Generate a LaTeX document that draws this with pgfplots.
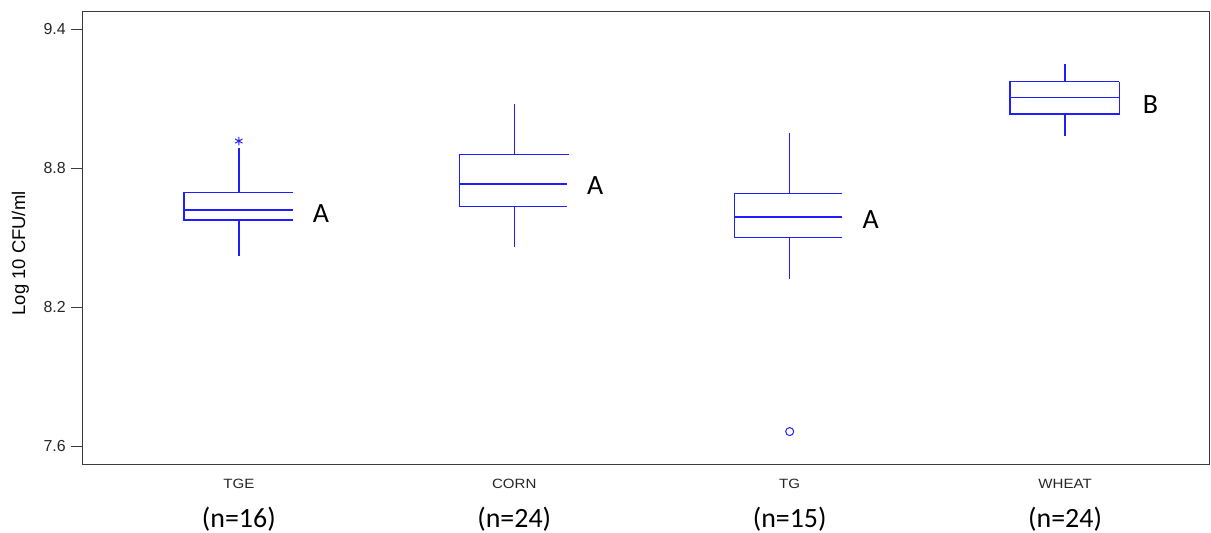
\documentclass[border=0pt]{standalone}
\usepackage{pgfplots}
\pgfplotsset{compat=1.18}
\usepackage{fontspec}
\setmainfont{Liberation Sans}
\newfontfamily\calibri{Carlito}
\newfontfamily\widesans[FakeStretch=1.12]{Liberation Sans}
\definecolor{boxblue}{RGB}{30,30,255}
\definecolor{axgray}{RGB}{60,60,60}
\pgfplotsset{
  boxline/.style={color=boxblue, line width=1.5bp, mark=none, solid},
}
\begin{document}
\begin{tikzpicture}
\useasboundingbox (-82.7bp,-69bp) rectangle (1128.3bp,464bp);
\begin{axis}[
  at={(0,0)}, anchor=south west,
  scale only axis, width=1127bp, height=453bp,
  xmin=0.433, xmax=4.525, ymin=7.522, ymax=9.479,
  axis line style={axgray, line width=0.8bp},
  xtick={1,2,3,4},
  xticklabels={TGE,CORN,TG,WHEAT},
  x tick style={draw=none},
  xticklabel style={anchor=base, yshift=-12.3bp, font=\widesans\fontsize{13.5}{15}\selectfont, text=black!85},
  extra x ticks={1,2,3,4},
  extra x tick labels={(n=16),(n=24),(n=15),(n=24)},
  extra x tick style={x tick style={draw=none}, xticklabel style={font=\calibri\fontsize{28}{32}\selectfont, yshift=-39.2bp, text=black}},
  ytick={7.6,8.2,8.8,9.4},
  ytick pos=left,
  tick align=outside,
  y tick style={axgray, line width=0.8bp},
  major tick length=12bp,
  yticklabel style={font=\fontsize{16}{18}\selectfont, text=black!85, xshift=-1.5bp,
    /pgf/number format/.cd, fixed, precision=1, fixed zerofill, assume math mode=true},
  ylabel={Log 10 CFU/ml},
  every axis y label/.style={at={(axis description cs:-0.0554,0.4647)}, rotate=90, anchor=center, font=\fontsize{18.5}{20}\selectfont, text=black},
  clip=false,
]
% TGE: box (open on the right), median, whiskers, outlier
\addplot[boxline] coordinates {(1.195,8.694) (0.800,8.694) (0.800,8.576) (1.195,8.576)};
\addplot[boxline] coordinates {(0.800,8.619) (1.195,8.619)};
\addplot[boxline] coordinates {(1,8.694) (1,8.887)};
\addplot[boxline] coordinates {(1,8.576) (1,8.421)};
\addplot[color=boxblue, only marks, mark=asterisk, mark size=4.2bp, mark options={line width=1bp}] coordinates {(1,8.917)};
% CORN
\addplot[boxline] coordinates {(2.200,8.860) (1.801,8.860) (1.801,8.634) (2.190,8.634)};
\addplot[boxline] coordinates {(1.801,8.732) (2.190,8.732)};
\addplot[boxline] coordinates {(2,8.860) (2,9.077)};
\addplot[boxline] coordinates {(2,8.634) (2,8.461)};
% TG
\addplot[boxline] coordinates {(3.191,8.690) (2.800,8.690) (2.800,8.500) (3.191,8.500)};
\addplot[boxline] coordinates {(2.800,8.589) (3.191,8.589)};
\addplot[boxline] coordinates {(3,8.690) (3,8.951)};
\addplot[boxline] coordinates {(3,8.500) (3,8.321)};
\addplot[color=boxblue, only marks, mark=o, mark size=4bp, mark options={line width=1bp}] coordinates {(3,7.662)};
% WHEAT
\addplot[boxline] coordinates {(4.197,9.174) (3.800,9.174) (3.800,9.034) (4.197,9.034) (4.197,9.174)};
\addplot[boxline] coordinates {(3.800,9.105) (4.197,9.105)};
\addplot[boxline] coordinates {(4,9.174) (4,9.249)};
\addplot[boxline] coordinates {(4,9.034) (4,8.939)};
\node[font=\calibri\fontsize{28}{30}\selectfont] at (axis cs:1.298,8.602) {A};
\node[font=\calibri\fontsize{28}{30}\selectfont] at (axis cs:2.294,8.723) {A};
\node[font=\calibri\fontsize{28}{30}\selectfont] at (axis cs:3.294,8.576) {A};
\node[font=\calibri\fontsize{28}{30}\selectfont] at (axis cs:4.31,9.073) {B};
\end{axis}
\end{tikzpicture}
\end{document}
